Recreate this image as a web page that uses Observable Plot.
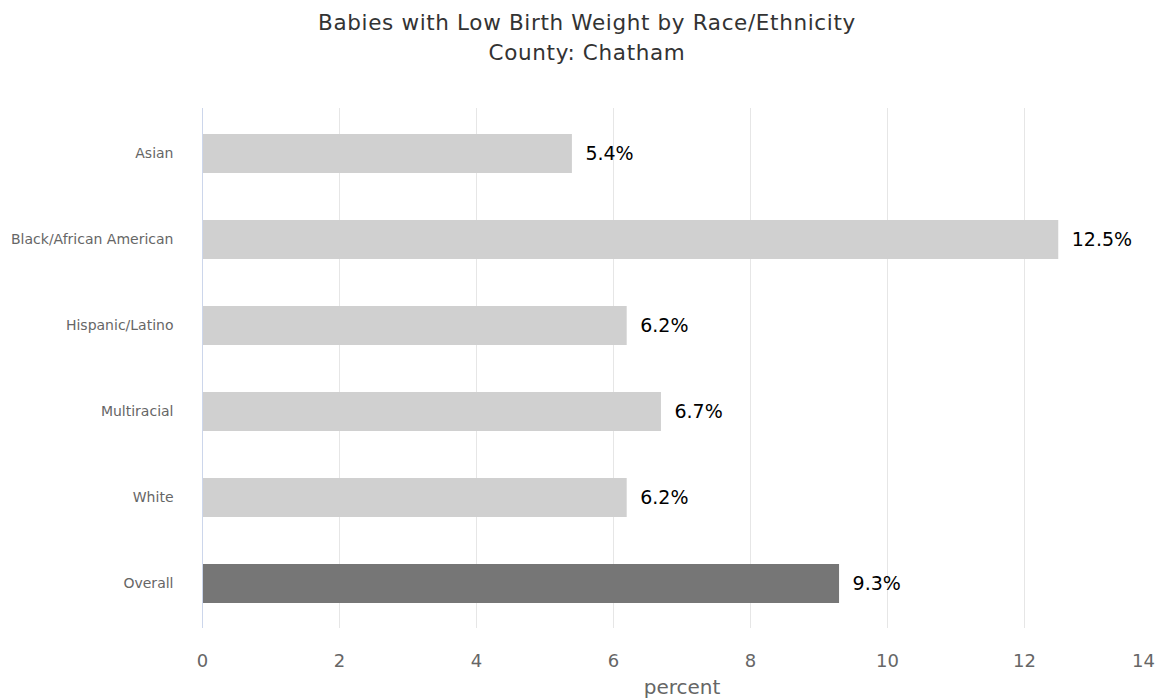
<!DOCTYPE html>
<html>
<head>
<meta charset="utf-8">
<script src="https://cdn.jsdelivr.net/npm/d3@7"></script>
<script src="https://cdn.jsdelivr.net/npm/@observablehq/plot@0.6"></script>
<style>
  html, body { margin: 0; padding: 0; background: #fff; }
  #title { height: 80px; box-sizing: border-box; padding-top: 8px; padding-left: 13px; text-align: center;
    font-family: "DejaVu Sans", sans-serif; font-size: 21.5px; letter-spacing: 0.65px; line-height: 30px; color: #333; }
  #chart svg { display: block; overflow: visible; }
</style>
</head>
<body>
<div id="title">Babies with Low Birth Weight by Race/Ethnicity<br>County: Chatham</div>
<div id="chart"></div>
<script>
const categories = ["Asian", "Black/African American", "Hispanic/Latino", "Multiracial", "White", "Overall"];
const values = [5.4, 12.5, 6.2, 6.7, 6.2, 9.3];
const xTicks = [0, 2, 4, 6, 8, 10, 12, 14];
const xLabel = "percent";

const data = categories.map((c, i) => ({category: c, value: values[i]}));

const chart = Plot.plot({
  width: 1161,
  height: 620,
  marginLeft: 202,
  marginRight: 0,
  marginTop: 28,
  marginBottom: 72,
  style: {fontFamily: "DejaVu Sans, sans-serif", background: "#fff"},
  x: {domain: [0, 14]},
  y: {domain: categories, paddingInner: 0.55, paddingOuter: 0.275, align: 0.5},
  marks: [
    Plot.gridX(xTicks.filter(t => t > 0), {stroke: "#e6e6e6", strokeOpacity: 1}),
    Plot.barX(data.filter(d => d.category !== "Overall"), {x: "value", y: "category", fill: "#d0d0d0"}),
    Plot.barX(data.filter(d => d.category === "Overall"), {x: "value", y: "category", fill: "#767676"}),
    Plot.ruleX([0], {stroke: "#ccd6eb", strokeWidth: 1}),
    Plot.text(data, {x: "value", y: "category", text: d => d.value.toFixed(1) + "%", textAnchor: "start", dx: 13, fontSize: 19, fill: "#000"}),
    Plot.axisY({tickSize: 0, tickPadding: 29, fontSize: 14, fill: "#666", label: null, style: {letterSpacing: "0.6px"}}),
    Plot.axisX(xTicks.slice(0, -1), {tickSize: 0, tickPadding: 26, fontSize: 18, fill: "#666", label: null}),
    Plot.axisX(xTicks.slice(-1), {tickSize: 0, tickPadding: 26, fontSize: 18, fill: "#666", label: null, dx: -18}),
    Plot.text([xLabel], {text: d => d, frameAnchor: "bottom", dy: 65, fontSize: 20, fill: "#666"})
  ]
});
document.getElementById("chart").appendChild(chart);
</script>
</body>
</html>
